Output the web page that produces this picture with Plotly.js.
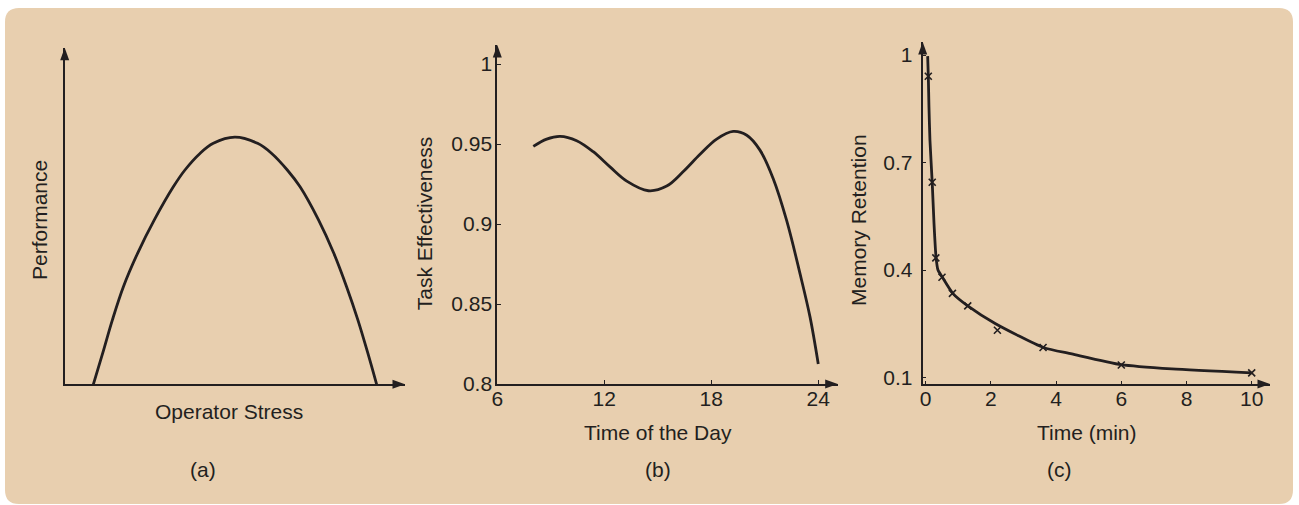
<!DOCTYPE html>
<html><head><meta charset="utf-8">
<script src="https://cdn.plot.ly/plotly-3.0.1.min.js"></script>
<style>html,body{margin:0;padding:0;background:#fff;}#chart{width:1299px;height:505px;}</style>
</head><body><div id="chart"></div>
<script>
// (a) Performance vs operator stress (unitless)
const stressX = [1.01, 1.34, 1.68, 2.07, 2.57, 3.16, 3.83, 4.24, 4.77, 5.24, 6.0, 6.8, 7.3, 7.85, 8.3, 8.95, 9.49, 9.94, 10.34, 10.69, 11.0];
const performanceY = [0, 0.111, 0.229, 0.348, 0.467, 0.586, 0.704, 0.764, 0.823, 0.859, 0.881, 0.859, 0.823, 0.764, 0.704, 0.586, 0.467, 0.348, 0.229, 0.111, 0];

// (b) Task effectiveness vs time of the day
const hourX = [8.02, 8.77, 9.52, 10.45, 11.38, 12.32, 13.26, 14.47, 15.5, 16.43, 17.37, 18.3, 19.23, 19.99, 20.73, 21.48, 22.23, 22.98, 23.54, 24.0];
const effectivenessY = [0.9485, 0.9531, 0.9548, 0.9521, 0.9452, 0.9357, 0.9268, 0.9208, 0.9237, 0.9328, 0.9436, 0.9531, 0.9579, 0.9555, 0.9462, 0.9282, 0.9021, 0.8688, 0.8418, 0.8125];
const hourTicks = [6, 12, 18, 24];
const effectTicks = [0.8, 0.85, 0.9, 0.95, 1];
const effectTickText = ['0.8', '0.85', '0.9', '0.95', '1'];

// (c) Memory retention vs time (min)
const timeCurveX = [0.06, 0.08, 0.1, 0.13, 0.2, 0.255, 0.316, 0.377, 0.51, 0.83, 1.29, 2.13, 3.61, 4.48, 6.0, 7.55, 10.0];
const retentionCurveY = [0.997, 0.941, 0.856, 0.763, 0.644, 0.53, 0.437, 0.4, 0.38, 0.335, 0.3, 0.251, 0.184, 0.166, 0.136, 0.124, 0.113];
const timeObsX = [0.08, 0.2, 0.31, 0.5, 0.82, 1.29, 2.2, 3.6, 6.0, 10.0];
const retentionObsY = [0.941, 0.645, 0.434, 0.38, 0.335, 0.3, 0.232, 0.184, 0.135, 0.113];
const minuteTicks = [0, 2, 4, 6, 8, 10];
const retentionTicks = [0.1, 0.4, 0.7, 1];
const retentionTickText = ['0.1', '0.4', '0.7', '1'];

const W = 1299, H = 505;
const px = v => v / W;
const py = v => 1 - v / H;
const INK = '#231f20';
const BG = '#e8cfaf';
const FONT = 'Liberation Sans, Arial, Helvetica, sans-serif';

const traces = [
  {x: stressX, y: performanceY, xaxis: 'x', yaxis: 'y', mode: 'lines',
   line: {color: INK, width: 2.8, shape: 'spline', smoothing: 1}, hoverinfo: 'skip'},
  {x: hourX, y: effectivenessY, xaxis: 'x2', yaxis: 'y2', mode: 'lines',
   line: {color: INK, width: 2.8, shape: 'spline', smoothing: 1}, hoverinfo: 'skip'},
  {x: timeCurveX, y: retentionCurveY, xaxis: 'x3', yaxis: 'y3', mode: 'lines',
   line: {color: INK, width: 2.8, shape: 'spline', smoothing: 0.6}, hoverinfo: 'skip'},
  {x: timeObsX, y: retentionObsY, xaxis: 'x3', yaxis: 'y3', mode: 'markers',
   marker: {symbol: 'x-thin', size: 7, color: INK, line: {width: 1.6, color: INK}}, hoverinfo: 'skip'}
];

const baseAxis = {
  showline: true, linecolor: INK, linewidth: 2, showgrid: false, zeroline: false,
  fixedrange: true, tickcolor: INK, tickfont: {family: FONT, size: 21, color: INK},
  ticklabelposition: 'outside'
};

function arrowUp(xp, yp) {
  return {type: 'path', xref: 'paper', yref: 'paper', xsizemode: 'pixel', ysizemode: 'pixel',
    xanchor: px(xp), yanchor: py(yp), path: 'M0,0 L-4.5,-12.5 L4.5,-12.5 Z',
    fillcolor: INK, line: {width: 0}, layer: 'above'};
}
function arrowRight(xp, yp) {
  return {type: 'path', xref: 'paper', yref: 'paper', xsizemode: 'pixel', ysizemode: 'pixel',
    xanchor: px(xp), yanchor: py(yp), path: 'M0,0 L-12.5,4.5 L-12.5,-4.5 Z',
    fillcolor: INK, line: {width: 0}, layer: 'above'};
}

function label(text, xp, yp, angle) {
  return {text: text, xref: 'paper', yref: 'paper', x: px(xp), y: py(yp), showarrow: false,
    xanchor: 'center', yanchor: 'middle', textangle: angle || 0,
    font: {family: FONT, size: 21, color: INK}};
}

const layout = {
  width: W, height: H,
  margin: {l: 0, r: 0, t: 0, b: 0, pad: 0},
  paper_bgcolor: '#ffffff', plot_bgcolor: 'rgba(0,0,0,0)',
  showlegend: false,
  font: {family: FONT, color: INK},
  xaxis: Object.assign({}, baseAxis, {domain: [px(64.7), px(405)], range: [0, 12], anchor: 'y',
    showticklabels: false, ticks: ''}),
  yaxis: Object.assign({}, baseAxis, {domain: [py(384.3), py(47.7)], range: [0, 1.2], anchor: 'x',
    showticklabels: false, ticks: ''}),
  xaxis2: Object.assign({}, baseAxis, {domain: [px(497.3), px(837.7)], range: [6, 25.09], anchor: 'y2',
    tickmode: 'array', tickvals: hourTicks, ticktext: hourTicks.map(String), ticks: 'inside', ticklen: 4, tickwidth: 1,
    ticklabelstandoff: -5}),
  yaxis2: Object.assign({}, baseAxis, {domain: [py(384), py(45)], range: [0.8, 1.0119], anchor: 'x2',
    tickmode: 'array', tickvals: effectTicks, ticktext: effectTickText, ticks: 'inside', ticklen: 4, tickwidth: 1,
    ticklabelstandoff: -1}),
  xaxis3: Object.assign({}, baseAxis, {domain: [px(922.7), px(1270)], range: [-0.092, 10.561], anchor: 'y3',
    tickmode: 'array', tickvals: minuteTicks, ticktext: minuteTicks.map(String), ticks: 'inside', ticklen: 3, tickwidth: 1,
    ticklabelstandoff: -5}),
  yaxis3: Object.assign({}, baseAxis, {domain: [py(384), py(42)], range: [0.082, 1.0365], anchor: 'x3',
    tickmode: 'array', tickvals: retentionTicks, ticktext: retentionTickText, ticks: 'inside', ticklen: 3, tickwidth: 1,
    ticklabelstandoff: 4}),
  shapes: [
    {type: 'path', xref: 'paper', yref: 'paper', xsizemode: 'pixel', ysizemode: 'pixel',
     xanchor: 0, yanchor: 0, layer: 'below', fillcolor: BG, line: {width: 0},
     path: 'M19,1 L1279,1 Q1293,1 1293,15 L1293,483 Q1293,497 1279,497 L19,497 Q5,497 5,483 L5,15 Q5,1 19,1 Z'},
    arrowUp(64.7, 47.7), arrowRight(405, 384.3),
    arrowUp(497.3, 45), arrowRight(837.7, 384),
    arrowUp(922.7, 42), arrowRight(1270, 384)
  ],
  annotations: [
    label('Performance', 40, 220, -90),
    label('Operator Stress', 229, 411),
    label('(a)', 203, 469),
    label('Task Effectiveness', 425.3, 223, -90),
    label('Time of the Day', 658, 432),
    label('(b)', 658, 469),
    label('Memory Retention', 859, 220, -90),
    label('Time (min)', 1086.7, 432),
    label('(c)', 1059.3, 469)
  ]
};

Plotly.newPlot('chart', traces, layout, {staticPlot: true, displayModeBar: false});
</script>
</body></html>
